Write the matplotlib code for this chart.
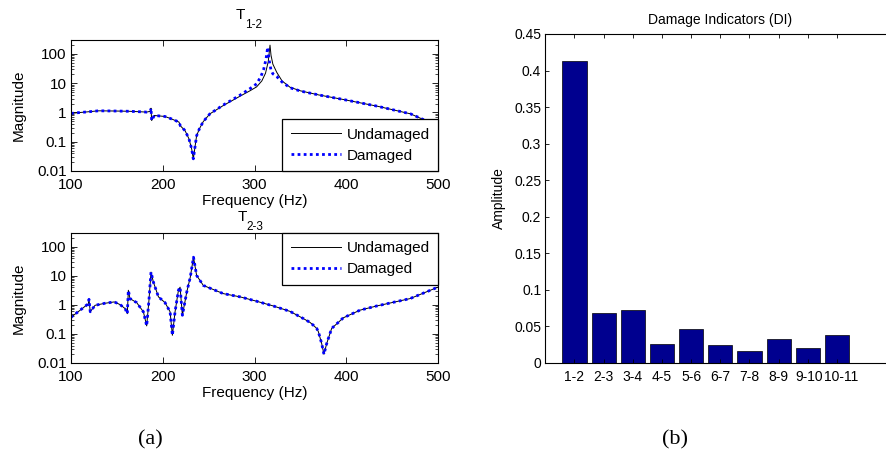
import matplotlib
matplotlib.use("Agg")
import matplotlib.pyplot as plt
from matplotlib.ticker import FixedLocator, LogLocator, NullFormatter
from matplotlib.transforms import ScaledTranslation

plt.rcParams['font.family'] = ['Liberation Sans', 'DejaVu Sans']

# ---- data: T1-2 ----
freq_12_und = [100, 110, 115, 130, 150, 163, 175, 182.5, 186.5, 187.2, 187.9, 190.8, 202.4, 209.7,
               217.7, 219.2, 224.3, 228.6, 231.5, 233.3, 236.9, 240, 244.2, 251.4, 266, 284.2,
               295, 302.3, 308, 312, 315, 316.9, 318, 320, 324.2, 330, 338.7, 350, 369.6, 397,
               433.8, 470, 486.5, 500]
mag_12_und = [0.93, 1.0, 1.03, 1.14, 1.12, 1.1, 1.06, 1.03, 1.1, 1.4, 0.53, 0.79, 0.73, 0.6,
              0.47, 0.35, 0.24, 0.125, 0.057, 0.026, 0.16, 0.28, 0.49, 0.9, 1.73, 3.6,
              5.5, 7.5, 12, 22, 55, 200, 90, 45, 23.7, 12, 7.3, 5.5, 4.0, 2.77,
              1.64, 0.9, 0.53, 0.3]
freq_12_dam = [100, 110, 115, 130, 150, 163, 175, 182.5, 186.5, 187.2, 187.9, 190.8, 202.4, 209.7,
               217.7, 219.2, 224.3, 228.6, 231.5, 233.3, 236.9, 240, 244.2, 251.4, 266, 284.2,
               295, 302.3, 307, 310, 312.5, 314.4, 316, 318, 320, 324.2, 330, 338.7, 350, 369.6,
               397, 433.8, 470, 486.5, 500]
mag_12_dam = [0.93, 1.0, 1.03, 1.14, 1.12, 1.1, 1.06, 1.03, 1.1, 1.4, 0.53, 0.79, 0.73, 0.6,
              0.47, 0.35, 0.24, 0.125, 0.057, 0.026, 0.16, 0.28, 0.49, 0.9, 1.8, 3.9,
              6.5, 9.5, 17, 30, 65, 170, 60, 28, 21, 17, 11, 7.0, 5.4, 4.0,
              2.77, 1.64, 0.9, 0.53, 0.3]

# ---- data: T2-3 ----
freq_23 = [100, 100.7, 110, 118.9, 119.6, 121, 126.2, 137, 147.2, 153.4, 158.9, 161.4, 162.5,
           164.3, 171.6, 178.9, 182.5, 185, 187.2, 189.8, 195.3, 202.5, 208, 210.5, 213.4,
           217.1, 218.9, 221.4, 226.2, 230, 233.5, 236.9, 244.2, 266, 284.2, 302.3, 320.5,
           338.7, 353.2, 360.5, 364.1, 367.8, 369.6, 373.2, 375.7, 378.7, 384.1, 396.8, 415,
           433.2, 469.5, 500]
mag_23_und = [0.37, 0.39, 0.66, 1.1, 1.56, 0.58, 0.97, 1.14, 1.27, 1.03, 0.75, 0.5, 3.2,
              1.65, 1.2, 0.58, 0.19, 1.5, 13.5, 6.1, 1.9, 1.2, 0.58, 0.09, 0.58,
              3.2, 4.1, 0.44, 2.8, 9, 44, 10.4, 4.7, 2.45, 1.9, 1.34, 0.92,
              0.6, 0.34, 0.25, 0.2, 0.155, 0.12, 0.047, 0.02, 0.047, 0.155, 0.36, 0.66,
              0.92, 1.65, 4.1]
mag_23_dam = mag_23_und

# ---- data: damage indicators ----
di_labels = ['1-2', '2-3', '3-4', '4-5', '5-6', '6-7', '7-8', '8-9', '9-10', '10-11']
di_values = [0.413, 0.068, 0.073, 0.026, 0.047, 0.025, 0.017, 0.033, 0.021, 0.038]

W, H = 886, 454
fig = plt.figure(figsize=(W / 100, H / 100), dpi=100)


def ax_rect(x0, y0, x1, y1):
    return [x0 / W, 1 - y1 / H, (x1 - x0) / W, (y1 - y0) / H]


def frf_axes(rect, f_u, m_u, f_d, m_d, sub, legloc, t_off, s_off):
    ax = fig.add_axes(rect)
    ax.plot(f_u, m_u, color='black', lw=0.7, label='Undamaged')
    ax.plot(f_d, m_d, color=(0, 0, 1), lw=2.0, ls=(0, (1, 1.2)), label='Damaged')
    ax.set_yscale('log')
    ax.set_xlim(100, 500)
    ax.set_ylim(0.01, 300)
    ax.set_xticks([100, 200, 300, 400, 500])
    ax.set_xticklabels(['100', '200', '300', '400', '500'])
    ax.yaxis.set_major_locator(FixedLocator([0.01, 0.1, 1, 10, 100]))
    ax.set_yticklabels(['0.01', '0.1', '1', '10', '100'])
    ax.yaxis.set_minor_locator(LogLocator(base=10, subs=range(2, 10)))
    ax.yaxis.set_minor_formatter(NullFormatter())
    ax.tick_params(which='both', direction='in', top=True, right=True, labelsize=11)
    ax.tick_params(axis='x', pad=5)
    ax.tick_params(axis='y', pad=3)
    ax.tick_params(which='major', length=4, width=0.6)
    ax.tick_params(which='minor', length=2, width=0.5)
    for s in ax.spines.values():
        s.set_linewidth(0.8)
    ax.set_xlabel('Frequency (Hz)', fontsize=11, labelpad=1.5)
    ax.set_ylabel('Magnitude', fontsize=11, labelpad=8)
    leg = ax.legend(loc=legloc, borderaxespad=0, fancybox=False, fontsize=11,
                    handlelength=3.3, handletextpad=0.35, labelspacing=0.45,
                    borderpad=0.55, framealpha=1)
    leg.get_frame().set_edgecolor('black')
    leg.get_frame().set_linewidth(0.9)
    ax.annotate('T', xy=(0.5, 1), xycoords='axes fraction', xytext=(t_off[0], t_off[1]),
                textcoords='offset pixels', ha='right', va='baseline', fontsize=11)
    ax.annotate(sub, xy=(0.5, 1), xycoords='axes fraction', xytext=(s_off[0], s_off[1]),
                textcoords='offset pixels', ha='left', va='baseline', fontsize=8.5)
    return ax


frf_axes(ax_rect(71, 40, 438, 171), freq_12_und, mag_12_und, freq_12_dam, mag_12_dam,
         '1-2', 'lower right', (-10, 21), (-9, 12))
frf_axes(ax_rect(71, 233, 438, 363), freq_23, mag_23_und, freq_23, mag_23_dam,
         '2-3', 'upper right', (-7, 12), (-8, 3))

# ---- bar chart ----
axb = fig.add_axes(ax_rect(545.3, 34, 895.3, 363))
pos = list(range(1, len(di_values) + 1))
axb.bar(pos, di_values, width=0.83, color='#00008F', edgecolor='black', linewidth=0.5)
axb.set_xlim(0, 12)
axb.set_ylim(0, 0.45)
axb.set_xticks(pos)
axb.set_xticklabels(di_labels)
yt = [0, 0.05, 0.1, 0.15, 0.2, 0.25, 0.3, 0.35, 0.4, 0.45]
axb.set_yticks(yt)
axb.set_yticklabels(['0', '0.05', '0.1', '0.15', '0.2', '0.25', '0.3', '0.35', '0.4', '0.45'])
axb.tick_params(direction='in', top=True, right=False, labelsize=10, length=3, width=0.6, pad=3)
axb.tick_params(axis='x', pad=5)
for s in axb.spines.values():
    s.set_linewidth(0.8)
axb.set_title('Damage Indicators (DI)', fontsize=10, pad=7)
axb.set_ylabel('Amplitude', fontsize=10, labelpad=6)
# the last tick label sits a little to the right in the reference
lbls = axb.get_xticklabels()
lbls[-1].set_transform(lbls[-1].get_transform() + ScaledTranslation(4 / 100, 0, fig.dpi_scale_trans))
lbls[-2].set_transform(lbls[-2].get_transform() + ScaledTranslation(1 / 100, 0, fig.dpi_scale_trans))

fig.text(150 / W, 1 - 440 / H, '(a)', family=['Liberation Serif', 'DejaVu Serif'],
         fontsize=16, ha='center', va='center')
fig.text(675 / W, 1 - 440 / H, '(b)', family=['Liberation Serif', 'DejaVu Serif'],
         fontsize=16, ha='center', va='center')

fig.savefig('out.png', dpi=100)
